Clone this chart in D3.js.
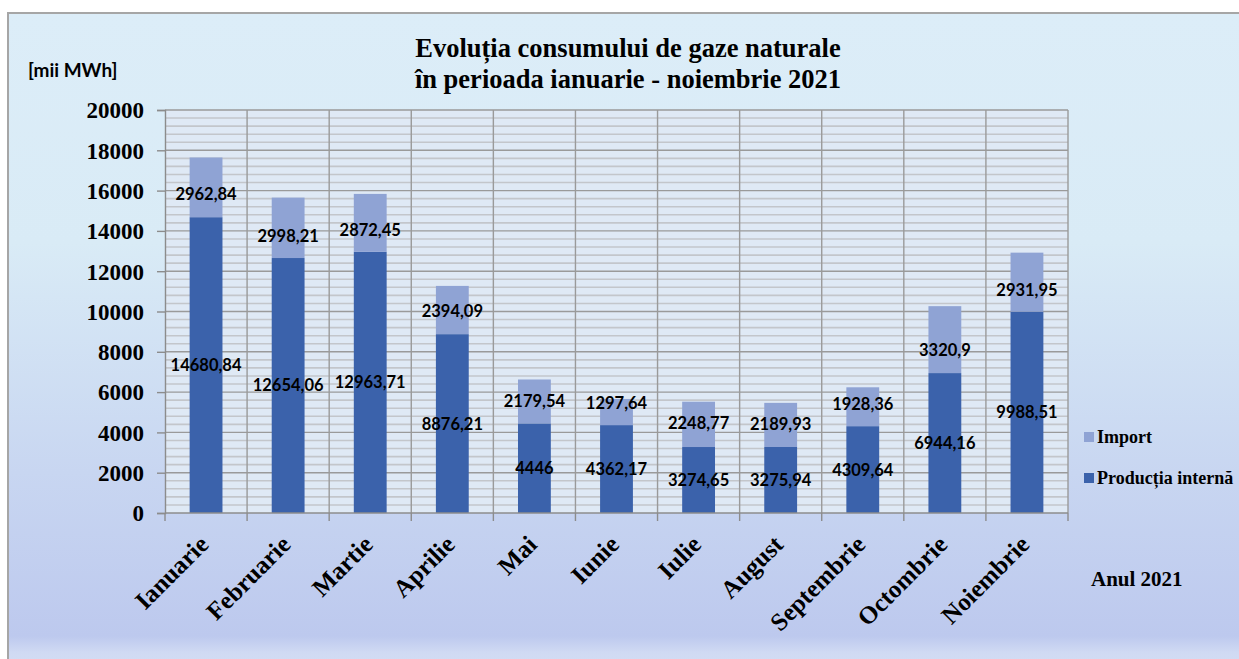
<!DOCTYPE html>
<head>
  <meta charset="utf-8">
  <script src="https://cdn.jsdelivr.net/npm/d3@7/dist/d3.min.js"></script>
  <style>
    body { margin: 0; background: #fff; }
    .serif { font-family: "Liberation Serif", "Times New Roman", serif; font-weight: bold; fill: #000; }
    .sans { font-family: Lato, "Liberation Sans", sans-serif; font-weight: bold; fill: #000; }
  </style>
</head>

<body>
  <script>
const W = 1239;
const H = 659;

// data
const months = ["Ianuarie", "Februarie", "Martie", "Aprilie", "Mai", "Iunie",
  "Iulie", "August", "Septembrie", "Octombrie", "Noiembrie"];
const productie = [14680.84, 12654.06, 12963.71, 8876.21, 4446, 4362.17,
  3274.65, 3275.94, 4309.64, 6944.16, 9988.51];
const importuri = [2962.84, 2998.21, 2872.45, 2394.09, 2179.54, 1297.64,
  2248.77, 2189.93, 1928.36, 3320.9, 2931.95];
const yTicks = [0, 2000, 4000, 6000, 8000, 10000, 12000, 14000, 16000, 18000, 20000];
const seriesNames = ["Import", "Producția internă"];

// the import labels were moved a bit by hand in the original (px, down = +)
const importLabelNudge = [7, 8, 7, 1, 0, -9, -1, -1, -3, 10, 8];

const C_PROD = "#3b62ab";
const C_IMP = "#8fa3d4";
const SERIF = '"Liberation Serif", "Times New Roman", serif';

const svg = d3.select("body").append("svg")
  .attr("width", W)
  .attr("height", H);

// background gradient
const defs = svg.append("defs");
const grad = defs.append("linearGradient")
  .attr("id", "bg").attr("x1", 0).attr("y1", 0).attr("x2", 0).attr("y2", 1);
grad.append("stop").attr("offset", "0%").attr("stop-color", "#dcedf8");
grad.append("stop").attr("offset", "35%").attr("stop-color", "#d9ebf6");
grad.append("stop").attr("offset", "70%").attr("stop-color", "#c8d6f1");
grad.append("stop").attr("offset", "95%").attr("stop-color", "#bdc9ee");
grad.append("stop").attr("offset", "97.5%").attr("stop-color", "#d0daf3");
grad.append("stop").attr("offset", "100%").attr("stop-color", "#d4def4");

svg.append("rect")
  .attr("x", 8).attr("y", 13)
  .attr("width", W + 10).attr("height", H - 13 + 10)
  .attr("fill", "url(#bg)")
  .attr("stroke", "#a6a6a6")
  .attr("stroke-width", 2);

// scales
const x = d3.scaleBand()
  .domain(months)
  .range([165, 1068])
  .paddingInner(0.6)
  .paddingOuter(0.3);

const y = d3.scaleLinear()
  .domain([0, 20000])
  .range([513, 110]);

// plot area
svg.append("rect")
  .attr("x", 165).attr("y", 110)
  .attr("width", 1068 - 165).attr("height", 513 - 110)
  .attr("fill", "#dfe9f5");

// minor grid every 400
svg.append("g")
  .selectAll("line")
  .data(d3.range(400, 20000, 400).filter(v => v % 2000 !== 0))
  .join("line")
  .attr("x1", 165).attr("x2", 1068)
  .attr("y1", d => y(d)).attr("y2", d => y(d))
  .attr("stroke", "#c3c6cb")
  .attr("stroke-width", 1.6);

// major grid
svg.append("g")
  .selectAll("line")
  .data(yTicks.slice(1))
  .join("line")
  .attr("x1", 165).attr("x2", 1068)
  .attr("y1", d => y(d)).attr("y2", d => y(d))
  .attr("stroke", "#9a9a9a")
  .attr("stroke-width", 1.4);

// vertical grid at category borders
const step = x.step();
const borders = months.map((m, i) => 165 + step * (i + 1));
svg.append("g")
  .selectAll("line")
  .data(borders)
  .join("line")
  .attr("x1", d => d).attr("x2", d => d)
  .attr("y1", 110).attr("y2", 513)
  .attr("stroke", "#9a9a9a")
  .attr("stroke-width", 1.4);

// bars
const barW = x.bandwidth();
const bars = svg.append("g");
bars.selectAll("rect.prod")
  .data(months)
  .join("rect")
  .attr("class", "prod")
  .attr("x", d => x(d))
  .attr("width", barW)
  .attr("y", (d, i) => y(productie[i]))
  .attr("height", (d, i) => y(0) - y(productie[i]))
  .attr("fill", C_PROD);

bars.selectAll("rect.imp")
  .data(months)
  .join("rect")
  .attr("class", "imp")
  .attr("x", d => x(d))
  .attr("width", barW)
  .attr("y", (d, i) => y(productie[i] + importuri[i]))
  .attr("height", (d, i) => y(productie[i]) - y(productie[i] + importuri[i]))
  .attr("fill", C_IMP);

// axes
const yaxis = d3.axisLeft(y).tickValues(yTicks).tickSize(8).tickFormat(d3.format("d"));
const gy = svg.append("g").attr("transform", "translate(165,0)").call(yaxis);
gy.attr("font-family", SERIF).attr("font-size", 23).attr("font-weight", "bold");
gy.select(".domain").attr("stroke", "#8c8c8c").attr("stroke-width", 1.4);
gy.selectAll(".tick line").attr("stroke", "#8c8c8c").attr("stroke-width", 1.4);
gy.selectAll(".tick text")
  .style("font-family", SERIF)
  .style("font-weight", "bold")
  .style("font-size", "23px")
  .attr("fill", "#000")
  .attr("x", -21)
  .attr("dy", "0.34em");

svg.append("line")
  .attr("x1", 165).attr("x2", 1068)
  .attr("y1", 513).attr("y2", 513)
  .attr("stroke", "#8c8c8c").attr("stroke-width", 1.4);
svg.append("g")
  .selectAll("line")
  .data([165].concat(borders))
  .join("line")
  .attr("x1", d => d).attr("x2", d => d)
  .attr("y1", 513).attr("y2", 521)
  .attr("stroke", "#8c8c8c").attr("stroke-width", 1.4);

// x labels, rotated
svg.append("g")
  .selectAll("text")
  .data(months)
  .join("text")
  .attr("class", "serif")
  .style("font-size", "25px")
  .attr("text-anchor", "end")
  .attr("transform", d => "translate(" + (x(d) + barW / 2 + 4) + ",546) rotate(-45)")
  .text(d => d);

// value labels
const fmt = v => String(v).replace(".", ",");
svg.append("g")
  .selectAll("text")
  .data(months)
  .join("text")
  .attr("class", "sans")
  .style("font-size", "16.5px")
  .attr("text-anchor", "middle")
  .attr("x", d => x(d) + barW / 2)
  .attr("y", (d, i) => y(productie[i] / 2))
  .attr("dy", "0.36em")
  .text((d, i) => fmt(productie[i]));

svg.append("g")
  .selectAll("text")
  .data(months)
  .join("text")
  .attr("class", "sans")
  .style("font-size", "16.5px")
  .attr("text-anchor", "middle")
  .attr("x", d => x(d) + barW / 2)
  .attr("y", (d, i) => y(productie[i] + importuri[i] / 2) + importLabelNudge[i])
  .attr("dy", "0.36em")
  .text((d, i) => fmt(importuri[i]));

// title
const title = svg.append("text")
  .attr("class", "serif")
  .style("font-size", "26.5px")
  .attr("text-anchor", "middle");
title.append("tspan").attr("x", 628).attr("y", 57).text("Evoluția consumului de gaze naturale");
title.append("tspan").attr("x", 628).attr("y", 88).text("în perioada ianuarie - noiembrie 2021");

// unit label
svg.append("text")
  .attr("class", "sans")
  .style("font-size", "19px")
  .attr("x", 28).attr("y", 77)
  .text("[mii MWh]");

// legend
const legend = svg.append("g");
const legColors = [C_IMP, C_PROD];
const legY = [437, 478];
seriesNames.forEach((name, i) => {
  legend.append("rect")
    .attr("x", 1084).attr("y", legY[i] - 5)
    .attr("width", 10).attr("height", 10)
    .attr("fill", legColors[i]);
  legend.append("text")
    .attr("class", "serif")
    .style("font-size", "18px")
    .attr("x", 1097).attr("y", legY[i] + 6)
    .text(name);
});

// x axis title
svg.append("text")
  .attr("class", "serif")
  .style("font-size", "21px")
  .attr("x", 1091).attr("y", 586)
  .text("Anul 2021");
  </script>
</body>
